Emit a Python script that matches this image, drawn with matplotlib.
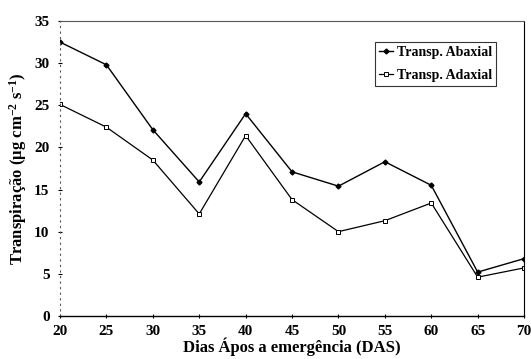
import matplotlib
matplotlib.use("Agg")
import matplotlib.pyplot as plt

das = [20, 25, 30, 35, 40, 45, 50, 55, 60, 65, 70]
abaxial = [32.5, 29.8, 22.1, 15.9, 24.0, 17.1, 15.4, 18.3, 15.5, 5.2, 6.8]
adaxial = [25.1, 22.4, 18.5, 12.1, 21.4, 13.8, 10.0, 11.3, 13.4, 4.6, 5.7]
yticks = [0, 5, 10, 15, 20, 25, 30, 35]

plt.rcParams['font.family'] = ['Liberation Serif', 'DejaVu Serif']
plt.rcParams['font.weight'] = 'bold'
plt.rcParams['mathtext.fontset'] = 'custom'
plt.rcParams['mathtext.rm'] = 'Liberation Serif:bold'
plt.rcParams['mathtext.it'] = 'Liberation Serif:bold'
plt.rcParams['mathtext.bf'] = 'Liberation Serif:bold'

fig = plt.figure(figsize=(5.31, 3.59), dpi=100)
ax = fig.add_axes([0.113, 0.12, 0.874, 0.8215])

ax.plot(das, abaxial, color='black', lw=1.0, marker='D', ms=2.5,
        mfc='black', mec='black', label='Transp. Abaxial')
ax.plot(das, adaxial, color='black', lw=0.9, marker='s', ms=3,
        mfc='white', mec='black', mew=0.7, label='Transp. Adaxial')

ax.set_xlim(20, 70)
ax.set_ylim(0, 35)
ax.set_xticks(das)
ax.set_yticks(yticks)
ax.tick_params(axis='both', labelsize=11, length=3, width=0.8, direction='inout')
ax.tick_params(axis='x', pad=5)
ax.tick_params(axis='y', pad=6)
for lab in ax.get_xticklabels() + ax.get_yticklabels():
    lab.set_fontweight('bold')

ax.spines['left'].set_linestyle((0, (1, 4)))
ax.spines['left'].set_linewidth(0.8)
ax.spines['left'].set_color('#555555')
ax.spines['top'].set_color('#555555')
ax.spines['right'].set_linewidth(0.8)
ax.spines['bottom'].set_linewidth(1.0)

ax.set_xlabel('Dias Ápos a emergência (DAS)', fontsize=12, fontweight='bold', labelpad=0)
ax.set_ylabel('Transpiração (μg cm$^{-2}$ s$^{-1}$)', fontsize=12, fontweight='bold', labelpad=4)

leg = ax.legend(loc='upper right', bbox_to_anchor=(0.94, 0.93), fontsize=10,
                frameon=True, fancybox=False, edgecolor='black', handlelength=1.0,
                handletextpad=0.3, borderpad=0.3, labelspacing=0.7, borderaxespad=0)
leg.get_frame().set_linewidth(0.8)
for t in leg.get_texts():
    t.set_fontweight('bold')

fig.savefig('out.png', dpi=100)
